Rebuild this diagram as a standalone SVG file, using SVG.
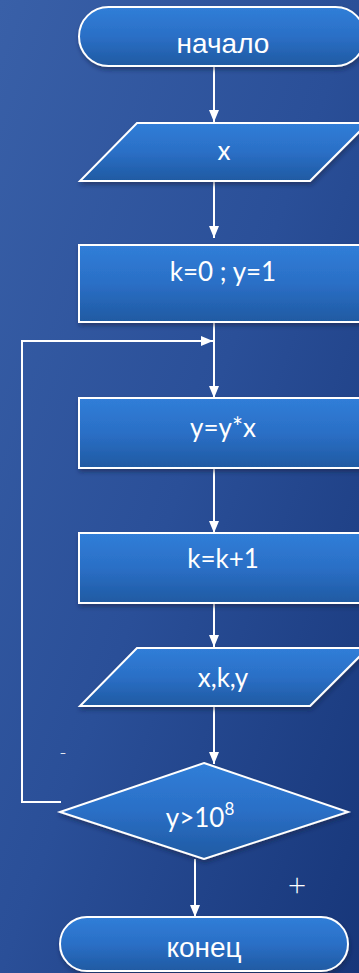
<svg xmlns="http://www.w3.org/2000/svg" width="359" height="973" viewBox="0 0 359 973">
<defs>
<linearGradient id="bg" x1="0" y1="0" x2="1" y2="1">
<stop offset="0" stop-color="#3960a8"/>
<stop offset="0.5" stop-color="#2a4f98"/>
<stop offset="1" stop-color="#173679"/>
</linearGradient>
<linearGradient id="sh" x1="0" y1="0" x2="0" y2="1">
<stop offset="0" stop-color="#307ed8"/>
<stop offset="0.5" stop-color="#2b6fc6"/>
<stop offset="1" stop-color="#1f5aa2"/>
</linearGradient>
<filter id="ds" x="-10%" y="-20%" width="130%" height="150%">
<feDropShadow dx="1" dy="3" stdDeviation="2" flood-color="#0a1a40" flood-opacity="0.5"/>
</filter>
<marker id="ah" viewBox="0 0 12 10" refX="12" refY="5" markerWidth="12" markerHeight="10" markerUnits="userSpaceOnUse" orient="auto">
<path d="M0,0 L12,5 L0,10 z" fill="#ffffff"/>
</marker>
<style>
.s{fill:url(#sh);stroke:#ffffff;stroke-width:2;filter:url(#ds)}
.c{fill:none;stroke:#ffffff;stroke-width:2}
.a{font-family:"Liberation Sans",Arial,sans-serif;font-size:28px;fill:#ffffff;text-anchor:middle}
.l{font-family:Lato,"Open Sans",sans-serif;font-size:26px;fill:#ffffff;text-anchor:middle}
.m{font-family:Lato,"Open Sans",sans-serif;fill:#ffffff;text-anchor:middle;font-weight:300}
</style>
</defs>
<rect x="0" y="0" width="359" height="973" fill="url(#bg)"/>
<g id="connectors">
<line class="c" x1="214" y1="66" x2="214" y2="122" marker-end="url(#ah)"/>
<line class="c" x1="214" y1="181" x2="214" y2="238" marker-end="url(#ah)"/>
<line class="c" x1="214" y1="322" x2="214" y2="398" marker-end="url(#ah)"/>
<line class="c" x1="214" y1="468" x2="214" y2="533" marker-end="url(#ah)"/>
<line class="c" x1="214" y1="603" x2="214" y2="647" marker-end="url(#ah)"/>
<line class="c" x1="214" y1="706" x2="214" y2="764" marker-end="url(#ah)"/>
<polyline class="c" points="61,802 22,802 22,341 213,341" marker-end="url(#ah)"/>
<line class="c" x1="195" y1="859" x2="195" y2="917" marker-end="url(#ah)"/>
<text class="m" x="63" y="759" font-size="20">-</text>
<text class="m" x="297" y="896" font-size="32">+</text>
</g>
<g id="start">
<rect class="s" x="79" y="7" width="286" height="59" rx="29.5"/>
<text class="a" x="223" y="53">начало</text>
</g>
<g id="input-x">
<polygon class="s" points="137,123 368,123 310,181 80,181"/>
<text class="l" x="224" y="160">x</text>
</g>
<g id="init">
<rect class="s" x="79" y="245" width="290" height="77"/>
<text class="l" x="223" y="281">k=0 ; y=1</text>
</g>
<g id="mult">
<rect class="s" x="79" y="398" width="290" height="70"/>
<text class="l" x="223" y="437">y=y*x</text>
</g>
<g id="inc">
<rect class="s" x="79" y="533" width="290" height="70"/>
<text class="l" x="223" y="568">k=k+1</text>
</g>
<g id="output">
<polygon class="s" points="137,648 368,648 310,706 80,706"/>
<text class="l" x="223" y="687">x,k,y</text>
</g>
<g id="cond">
<polygon class="s" points="204,763 348,812 204,859 60,812"/>
<text class="l" x="200" y="827">y&gt;10<tspan font-size="17" dy="-12">8</tspan></text>
</g>
<g id="end">
<rect class="s" x="60" y="917" width="288" height="54" rx="27"/>
<text class="a" x="204" y="957">конец</text>
</g>
</svg>
